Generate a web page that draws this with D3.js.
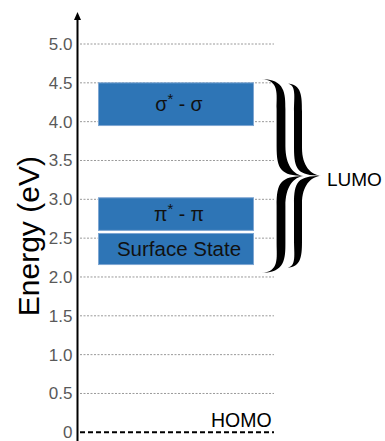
<!DOCTYPE html>
<html>
<head>
<meta charset="utf-8">
<script src="https://cdn.jsdelivr.net/npm/d3@7"></script>
<style>
  html, body { margin: 0; padding: 0; background: #fff; }
  svg { display: block; }
  text { font-family: "Liberation Sans", Arial, sans-serif; }
</style>
</head>
<body>
<svg id="chart" width="385" height="441"></svg>
<script>
// Energy levels (eV)
const levelNames = ["σ", "π", "Surface State"];
const levelLabels = [["σ", "*", " - σ"], ["π", "*", " - π"], ["Surface State", "", ""]];
const levelTop = [4.5, 3.02, 2.56];
const levelBottom = [3.95, 2.6, 2.16];

// Axis ticks
const tickValues = [0, 0.5, 1.0, 1.5, 2.0, 2.5, 3.0, 3.5, 4.0, 4.5, 5.0];
const tickLabels = ["0", "0.5", "1.0", "1.5", "2.0", "2.5", "3.0", "3.5", "4.0", "4.5", "5.0"];

// Curly braces grouping the LUMO levels (top / bottom energy of each brace)
const braceTop = [4.55, 4.49];
const braceBottom = [2.05, 2.12];

const homoEnergy = 0;

const svg = d3.select("#chart");

const y = d3.scaleLinear().domain([0, 5]).range([432.3, 44]);
const x = d3.scaleLinear().domain([0, 1]).range([80, 274]);
const boxX = d3.scaleLinear().domain([0, 1]).range([98.5, 253.5]);

// dotted gridlines
svg.append("g")
  .selectAll("line")
  .data(tickValues.filter(v => v > 0))
  .join("line")
  .attr("x1", x(0)).attr("x2", x(1))
  .attr("y1", d => y(d)).attr("y2", d => y(d))
  .attr("stroke", "#9a9a9a")
  .attr("stroke-width", 1)
  .attr("stroke-dasharray", "2,1.5");

// HOMO reference line
svg.append("line")
  .attr("x1", x(0)).attr("x2", x(1))
  .attr("y1", y(homoEnergy)).attr("y2", y(homoEnergy))
  .attr("stroke", "#000")
  .attr("stroke-width", 2)
  .attr("stroke-dasharray", "5,3");

// energy level boxes
const boxes = svg.append("g");
boxes.selectAll("rect")
  .data(levelNames)
  .join("rect")
  .attr("x", boxX(0))
  .attr("width", boxX(1) - boxX(0))
  .attr("y", (d, i) => y(levelTop[i]))
  .attr("height", (d, i) => y(levelBottom[i]) - y(levelTop[i]))
  .attr("fill", "#2E75B6")
  .attr("stroke", "#7EA6D2")
  .attr("stroke-width", 1);

const labelSizes = [19.5, 19.5, 20.5];
levelLabels.forEach((parts, i) => {
  const cy = (y(levelTop[i]) + y(levelBottom[i])) / 2;
  const t = boxes.append("text")
    .attr("x", (boxX(0) + boxX(1)) / 2 + 3)
    .attr("y", cy + 7)
    .attr("text-anchor", "middle")
    .attr("font-size", labelSizes[i])
    .attr("fill", "#111");
  t.append("tspan").text(parts[0]);
  if (parts[1]) {
    t.append("tspan").attr("dy", -7).attr("font-size", 15).text(parts[1]);
    t.append("tspan").attr("dy", 7).text(parts[2]);
  }
});

// y axis with arrow
svg.append("line")
  .attr("x1", 77.5).attr("x2", 77.5)
  .attr("y1", 441).attr("y2", 18)
  .attr("stroke", "#000")
  .attr("stroke-width", 2);
svg.append("path")
  .attr("d", "M77.5,12 L74,20 L81,20 Z")
  .attr("fill", "#000");

// tick labels
svg.append("g")
  .selectAll("text")
  .data(tickValues)
  .join("text")
  .attr("x", 72.5)
  .attr("y", d => y(d) + 6)
  .attr("text-anchor", "end")
  .attr("font-size", 17)
  .attr("fill", "#595959")
  .text((d, i) => tickLabels[i]);

// axis title
svg.append("text")
  .attr("transform", "translate(38.5," + (y(2.5) - 2) + ") rotate(-90)")
  .attr("text-anchor", "middle")
  .attr("font-size", 30)
  .attr("fill", "#000")
  .text("Energy (eV)");

// calligraphic right curly brace, filled outline
function bracePath(x0, y0, y1, xs, xc, t, r) {
  const ym = (y0 + y1) / 2;
  const p = d3.path();
  p.moveTo(x0, y0);
  p.bezierCurveTo(xs + t, y0, xs + t, y0 + r * 0.5, xs + t, y0 + r);
  p.lineTo(xs + t, ym - r);
  p.bezierCurveTo(xs + t, ym - r * 0.35, xc - (xc - xs) * 0.45, ym - 1, xc, ym);
  p.bezierCurveTo(xc - (xc - xs) * 0.45, ym + 1, xs + t, ym + r * 0.35, xs + t, ym + r);
  p.lineTo(xs + t, y1 - r);
  p.bezierCurveTo(xs + t, y1 - r * 0.5, xs + t, y1, x0, y1);
  p.bezierCurveTo(xs - t * 0.3, y1 - 1, xs - t, y1 - r * 0.5, xs - t, y1 - r);
  p.lineTo(xs - t, ym + r);
  p.bezierCurveTo(xs - t, ym + r * 0.2, xs, ym + 0.5, xc, ym);
  p.bezierCurveTo(xs, ym - 0.5, xs - t, ym - r * 0.2, xs - t, ym - r);
  p.lineTo(xs - t, y0 + r);
  p.bezierCurveTo(xs - t, y0 + r * 0.5, xs - t * 0.3, y0 + 1, x0, y0);
  p.closePath();
  return p.toString();
}

const braceGeom = [
  { x0: 261, xs: 281, xc: 304, t: 4.4, r: 30 },
  { x0: 287, xs: 298, xc: 321, t: 4, r: 28 }
];
svg.append("g")
  .selectAll("path")
  .data(braceGeom)
  .join("path")
  .attr("d", (g, i) => bracePath(g.x0, y(braceTop[i]), y(braceBottom[i]), g.xs, g.xc, g.t, g.r))
  .attr("fill", "#000");

svg.append("text")
  .attr("x", 327)
  .attr("y", 186)
  .attr("font-size", 19)
  .attr("fill", "#000")
  .text("LUMO");

svg.append("text")
  .attr("x", 211)
  .attr("y", 427)
  .attr("font-size", 19.5)
  .attr("fill", "#000")
  .text("HOMO");
</script>
</body>
</html>
